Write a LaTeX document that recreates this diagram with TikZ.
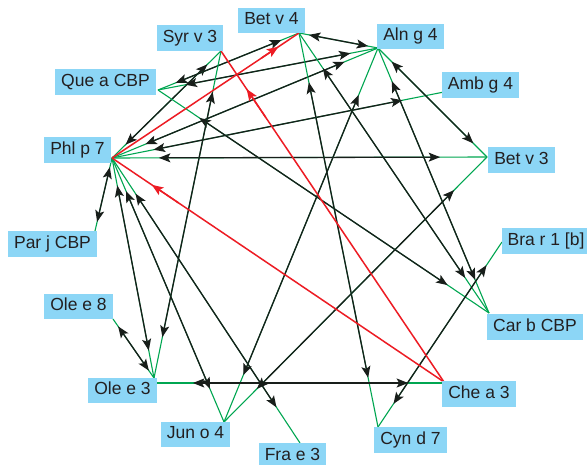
\documentclass[tikz,border=0pt]{standalone}
\usepackage{fontspec}
\setmainfont{Liberation Sans}
\usetikzlibrary{calc,arrows.meta}
\definecolor{boxblue}{RGB}{140,214,246}
\definecolor{lgreen}{RGB}{0,166,81}
\definecolor{lred}{RGB}{237,28,36}
\definecolor{dark}{RGB}{24,30,26}
\definecolor{txt}{RGB}{35,31,32}
\tikzset{
  lab/.style={fill=boxblue, text=txt, font=\fontsize{17.5}{20}\selectfont,
    inner xsep=6pt, inner ysep=4.5pt, text height=12.5pt, text depth=4.4pt},
  gline/.style={draw=lgreen, line width=1.1pt},
  bline/.style={draw=dark, line width=1.3pt,
    {Stealth[length=11.5pt,width=9pt,inset=2.5pt]}-{Stealth[length=11.5pt,width=9pt,inset=2.5pt]}},
  rline/.style={draw=lred, line width=1.5pt},
  rarrow/.style={draw=lred, line width=1.5pt, -{Stealth[length=11.5pt,width=9pt,inset=2.5pt]}}
}
\newcommand{\dedge}[2]{%
  \path[gline] (#1) -- (#2);
  \path[bline] ($(#1)!0.125!(#2)$) -- ($(#1)!0.875!(#2)$);}
\newcommand{\redge}[3]{%
  \path[rline] ($(#1)!0.8!(#2)$) -- (#2);
  \path[rarrow] (#1) -- ($(#1)!#3!(#2)$);}
\begin{document}
\begin{tikzpicture}[x=1pt,y=-1pt]
\useasboundingbox (0,0) rectangle (587,465);
\fill[white] (0,0) rectangle (587,465);
% connection points
\coordinate (betv4A) at (299,33);
\coordinate (syrA) at (221,51);
\coordinate (alnA) at (378,48);
\coordinate (queA) at (158,90);
\coordinate (ambA) at (444,92);
\coordinate (phlA) at (112,158);
\coordinate (betv3A) at (487,157);
\coordinate (braA) at (502,242);
\coordinate (parA) at (95,231);
\coordinate (ole8A) at (113,319);
\coordinate (ole3A) at (154,378);
\coordinate (ole3H) at (157,383);
\coordinate (cheA) at (444,382);
\coordinate (cheH) at (444,383);
\coordinate (junA) at (224,422);
\coordinate (fraA) at (300,443);
\coordinate (cynA) at (378,427);
\coordinate (carA) at (489,313);
% double-headed connectors
\dedge{phlA}{parA}
\dedge{phlA}{betv3A}
\dedge{phlA}{syrA}
\dedge{phlA}{alnA}
\dedge{phlA}{ambA}
\dedge{phlA}{ole3A}
\dedge{phlA}{junA}
\dedge{phlA}{fraA}
\dedge{queA}{betv4A}
\dedge{queA}{alnA}
\dedge{queA}{carA}
\dedge{betv4A}{alnA}
\dedge{betv4A}{cynA}
\dedge{betv4A}{carA}
\dedge{alnA}{junA}
\dedge{alnA}{betv3A}
\dedge{alnA}{carA}
\dedge{junA}{betv3A}
\dedge{syrA}{ole3A}
\dedge{ole8A}{ole3A}
\dedge{ole3H}{cheH}
\dedge{cynA}{braA}
% red connectors
\redge{phlA}{betv4A}{0.89}
\redge{cheA}{phlA}{0.88}
\redge{cheA}{syrA}{0.885}
% nodes
\node[lab] (betv4) at (271.5,20.5) {Bet v 4};
\node[lab] (syr) at (190,38) {Syr v 3};
\node[lab] (aln) at (410.5,36.5) {Aln g 4};
\node[lab] (que) at (105.5,82) {Que a CBP};
\node[lab] (amb) at (480.5,85) {Amb g 4};
\node[lab] (phl) at (77.5,150) {Phl p 7};
\node[lab] (betv3) at (521.5,160) {Bet v 3};
\node[lab] (bra) at (546,241) {Bra r 1 [b]};
\node[lab] (par) at (52.5,244) {Par j CBP};
\node[lab] (ole8) at (78.5,306.5) {Ole e 8};
\node[lab] (ole3) at (122.5,390.5) {Ole e 3};
\node[lab] (che) at (479,394) {Che a 3};
\node[lab] (jun) at (195.5,434.5) {Jun o 4};
\node[lab] (fra) at (292.5,456) {Fra e 3};
\node[lab] (cyn) at (410.5,440) {Cyn d 7};
\node[lab] (car) at (535,327) {Car b CBP};
\end{tikzpicture}
\end{document}
